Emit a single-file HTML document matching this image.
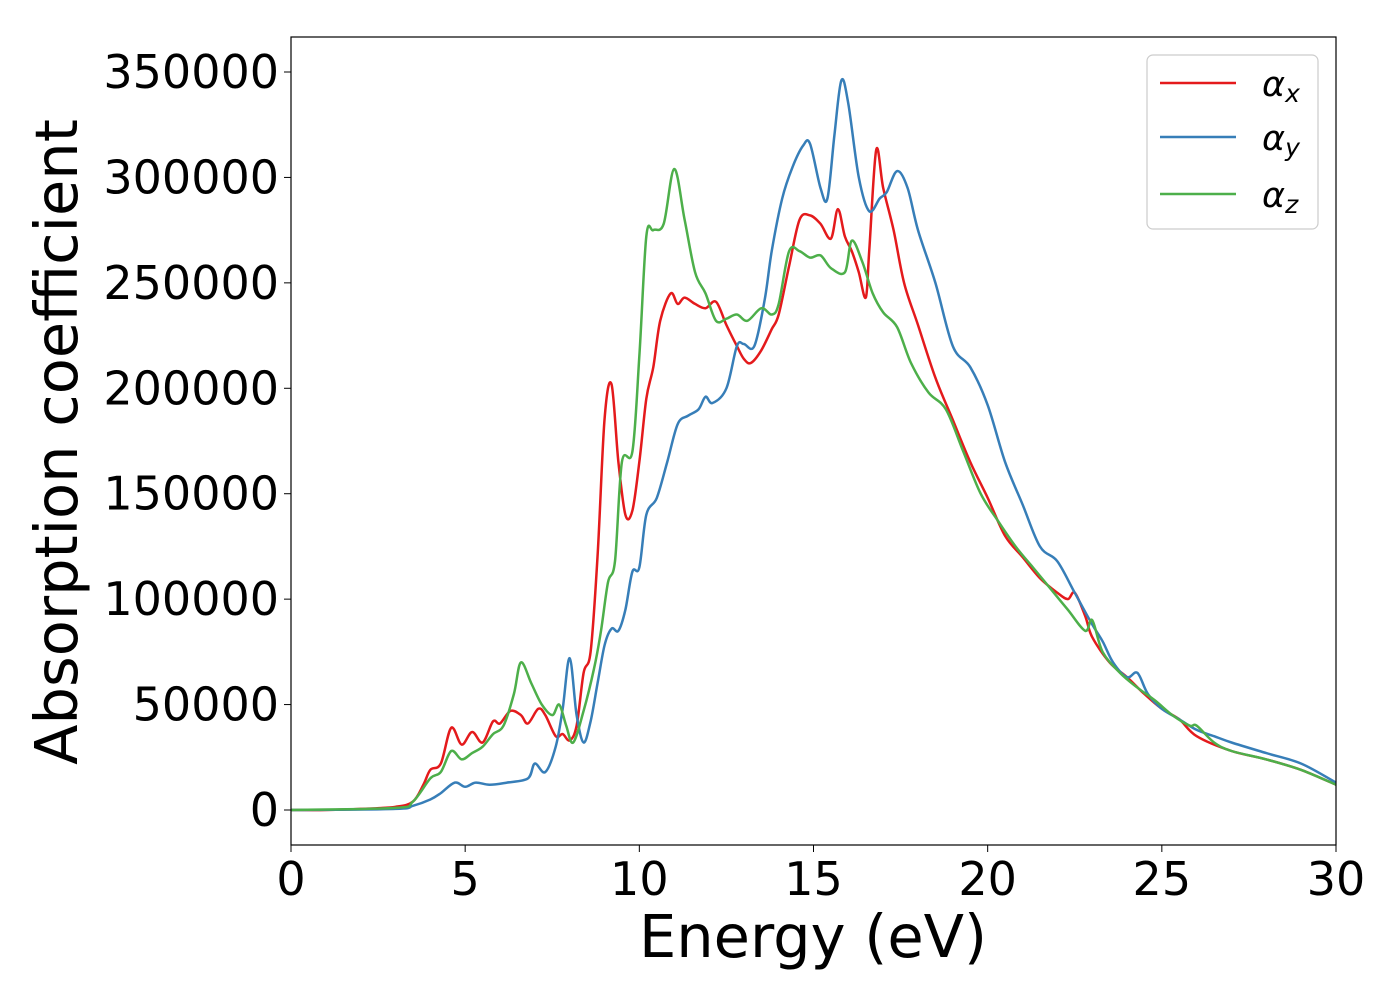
<!DOCTYPE html>
<html><head><meta charset="utf-8"><style>
html,body{margin:0;padding:0;background:#fff;}
svg{display:block;font-family:"DejaVu Sans","Liberation Sans",sans-serif;}
</style></head><body>
<svg id="chart" width="1400" height="1000" viewBox="0 0 1400 1000" xmlns="http://www.w3.org/2000/svg">
<rect x="0" y="0" width="1400" height="1000" fill="#fff"/>
<g id="series"></g>
<rect x="291" y="37" width="1045" height="808" fill="none" stroke="#000" stroke-width="1.2"/>
<g id="xticks"></g>
<g id="yticks"></g>
<text x="813" y="957" font-size="59" text-anchor="middle">Energy (eV)</text>
<text transform="translate(77,442) rotate(-90)" font-size="59" text-anchor="middle">Absorption coefficient</text>
<g>
<rect x="1147" y="55" width="171" height="174" rx="6" fill="#fff" fill-opacity="0.8" stroke="#ccc" stroke-width="1.2"/>
<g><line x1="1160" y1="83" x2="1236" y2="83" stroke="#e41a1c" stroke-width="2.5"/><text x="1262" y="96" font-size="35" font-style="italic">α<tspan font-size="25" dy="6">x</tspan></text></g>
<g><line x1="1160" y1="137" x2="1236" y2="137" stroke="#377eb8" stroke-width="2.5"/><text x="1262" y="150" font-size="35" font-style="italic">α<tspan font-size="25" dy="6">y</tspan></text></g>
<g><line x1="1160" y1="194" x2="1236" y2="194" stroke="#4daf4a" stroke-width="2.5"/><text x="1262" y="207" font-size="35" font-style="italic">α<tspan font-size="25" dy="6">z</tspan></text></g>
</g>
</svg>
<script>
const xTicks=[0,5,10,15,20,25,30];
const yTicks=[0,50000,100000,150000,200000,250000,300000,350000];
const xE=[0,1,2,3,3.5,3.8,4,4.3,4.6,4.9,5.2,5.5,5.8,6.0,6.3,6.6,6.8,7.1,7.3,7.6,7.8,8.0,8.2,8.4,8.6,8.8,9.0,9.2,9.4,9.6,9.8,10.0,10.2,10.4,10.6,10.9,11.1,11.3,11.6,11.9,12.2,12.5,12.8,13.0,13.2,13.5,13.8,14.0,14.3,14.6,14.9,15.2,15.5,15.7,15.9,16.1,16.3,16.5,16.6,16.8,17.0,17.3,17.6,18.0,18.5,19.0,19.5,20,20.5,21,21.5,22,22.3,22.5,22.8,23,23.5,24,24.5,25,25.5,26,27,28,29,30];
const xV=[0,0,0.5,1.5,4,12,19,22,39,31,37,32,42,41,47,45,41,48,45,35,36,33,40,65,75,120,185,202,165,140,142,165,195,210,232,245,240,243,240,238,241,230,220,214,212,218,228,235,258,280,282,278,271,285,272,265,255,243,265,313,295,275,250,230,205,185,165,148,130,120,110,103,100,103,92,82,70,63,55,48,43,35,28,24,19,12];
const yE=[0,3,3.5,4,4.3,4.7,5.0,5.3,5.7,6.2,6.8,7.0,7.3,7.6,7.8,8.0,8.2,8.4,8.6,8.8,9.0,9.2,9.4,9.6,9.8,10.0,10.2,10.5,10.8,11.1,11.4,11.7,11.9,12.1,12.5,12.8,13.0,13.3,13.6,13.8,14.1,14.4,14.7,14.9,15.2,15.4,15.6,15.8,16.0,16.3,16.6,16.9,17.1,17.4,17.7,18.0,18.5,19.0,19.5,20,20.5,21,21.5,22,22.5,23,23.3,23.6,24,24.3,24.6,25,25.5,26,26.5,27,28,29,30];
const yV=[0,0.5,2,5,8,13,11,13,12,13,15,22,18,30,48,72,45,32,42,60,78,86,85,95,113,115,140,148,165,183,187,190,196,193,200,220,221,220,242,265,290,305,315,316,295,290,320,346,335,300,284,290,293,303,295,275,250,220,210,192,165,145,125,118,103,88,80,70,63,65,55,48,43,38,35,32,27,22,13];
const zE=[0,3,3.5,4,4.3,4.6,4.9,5.2,5.5,5.8,6.1,6.4,6.6,6.9,7.2,7.5,7.7,7.9,8.1,8.4,8.7,8.9,9.1,9.3,9.5,9.8,10.0,10.2,10.4,10.7,11.0,11.3,11.6,11.9,12.2,12.5,12.8,13.1,13.5,13.8,14.0,14.3,14.6,14.9,15.2,15.5,15.9,16.1,16.4,16.7,17.0,17.4,17.8,18.3,18.8,19.3,19.8,20.3,20.8,21.3,21.8,22.3,22.8,23.0,23.3,23.8,24.3,24.8,25.3,25.8,26.0,26.5,27,28,29,30];
const zV=[0,1,4,15,18,28,24,27,30,36,40,55,70,60,50,45,50,40,32,47,67,85,108,118,165,170,215,272,275,278,304,280,255,245,232,233,235,232,238,235,240,265,265,262,263,257,255,270,260,245,236,229,212,198,190,170,150,137,125,115,105,95,85,90,75,65,58,52,45,40,40,32,28,24,19,12];

const NS="http://www.w3.org/2000/svg";
const X=e=>291+e*(1045/30);
const Y=v=>810-v*(738/350000);
function path(es,vs){
  const p=es.map((e,i)=>[X(e),Y(vs[i]*1000)]);
  let d="M"+p[0][0].toFixed(1)+","+p[0][1].toFixed(1);
  for(let i=0;i<p.length-1;i++){
    const p0=p[Math.max(0,i-1)],p1=p[i],p2=p[i+1],p3=p[Math.min(p.length-1,i+2)];
    const c1=[p1[0]+(p2[0]-p0[0])/6,p1[1]+(p2[1]-p0[1])/6];
    const c2=[p2[0]-(p3[0]-p1[0])/6,p2[1]-(p3[1]-p1[1])/6];
    d+="C"+c1.map(n=>n.toFixed(1))+" "+c2.map(n=>n.toFixed(1))+" "+p2.map(n=>n.toFixed(1));
  }
  return d;
}
const g=document.getElementById('series');
[[xE,xV,'#e41a1c','alpha-x-line'],[yE,yV,'#377eb8','alpha-y-line'],[zE,zV,'#4daf4a','alpha-z-line']].forEach(s=>{
  const el=document.createElementNS(NS,'path');
  el.setAttribute('d',path(s[0],s[1]));
  el.setAttribute('fill','none');el.setAttribute('stroke',s[2]);el.setAttribute('stroke-width','2.5');
  
  
  g.appendChild(el);
});
const gx=document.getElementById('xticks');
xTicks.forEach(t=>{
  const l=document.createElementNS(NS,'line');
  l.setAttribute('x1',X(t));l.setAttribute('x2',X(t));l.setAttribute('y1',845);l.setAttribute('y2',852);l.setAttribute('stroke','#000');
  
  
  gx.appendChild(l);
  const tx=document.createElementNS(NS,'text');
  tx.setAttribute('x',X(t));tx.setAttribute('y',895);tx.setAttribute('font-size','46');tx.setAttribute('text-anchor','middle');
  tx.textContent=t;
  
  
  gx.appendChild(tx);
});
const gy=document.getElementById('yticks');
yTicks.forEach(t=>{
  const l=document.createElementNS(NS,'line');
  l.setAttribute('x1',284);l.setAttribute('x2',291);l.setAttribute('y1',Y(t));l.setAttribute('y2',Y(t));l.setAttribute('stroke','#000');
  
  
  gy.appendChild(l);
  const tx=document.createElementNS(NS,'text');
  tx.setAttribute('x',279);tx.setAttribute('y',Y(t)+16);tx.setAttribute('font-size','46');tx.setAttribute('text-anchor','end');
  tx.textContent=t;
  
  
  gy.appendChild(tx);
});
</script>
</body></html>
